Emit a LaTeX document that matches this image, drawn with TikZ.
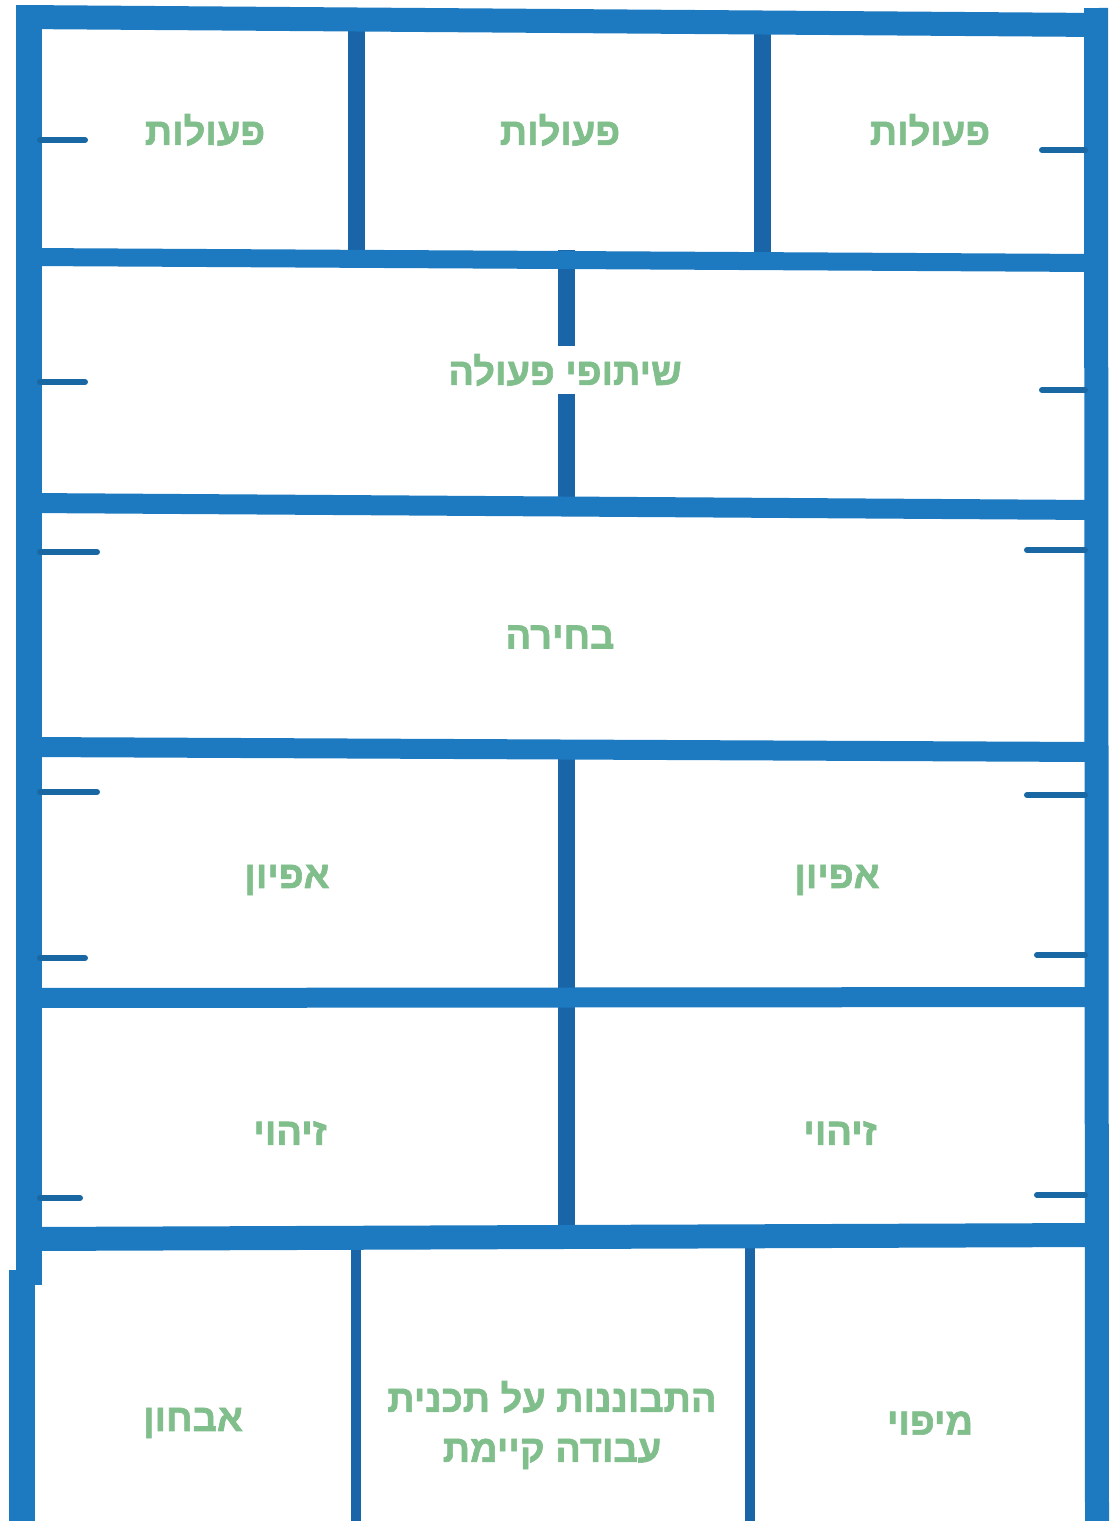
\documentclass[tikz,border=0pt]{standalone}
\usepackage{fontspec}
\TeXXeTstate=1
\newfontfamily\heb[Script=Hebrew,BoldFeatures={FakeBold=1.6}]{Liberation Sans}
\definecolor{pipe}{RGB}{30,122,192}
\definecolor{post}{RGB}{26,100,168}
\definecolor{lbl}{RGB}{128,190,140}
\tikzset{
  rail/.style={draw=pipe,line width=20pt},
  outer/.style={draw=pipe,line width=26pt},
  innerpost/.style={draw=post,line width=17pt},
  thinpost/.style={draw=post,line width=10pt},
  hook/.style={draw=pipe!85!black,line width=6pt,line cap=round},
  lab/.style={text=lbl,font=\heb\bfseries\fontsize{38}{50}\selectfont,align=center,inner sep=4pt}
}
\begin{document}
\begin{tikzpicture}[x=1pt,y=-1pt]
\useasboundingbox[fill=white] (0,0) rectangle (1109,1521);
% inner posts
\draw[innerpost] (356,30) -- (356,255);
\draw[innerpost] (762,32) -- (762,258);
\draw[innerpost] (566,250) -- (566,512);
\draw[innerpost] (566,745) -- (566,998);
\draw[innerpost] (566,995) -- (566,1236);
\draw[thinpost] (356,1236) -- (356,1521);
\draw[thinpost] (750,1236) -- (750,1521);
% rails
\draw[rail,line width=24pt] (20,17) -- (1100,25);
\draw[rail,line width=18pt] (30,257) -- (1095,263);
\draw[rail] (30,503) -- (1095,510);
\draw[rail] (30,747) -- (1095,752);
\draw[rail] (25,998) -- (1095,997);
\draw[rail,line width=24pt] (25,1239) -- (1095,1235);
% outer posts
\draw[outer] (29,5) -- (29,1285);
\draw[outer] (22,1270) -- (22,1521);
\draw[outer,line width=24pt] (1096,8) -- (1097,1521);
% hooks
\foreach \y/\l in {140/85,382/85,552/97,792/97,958/85,1198/80}
  \draw[hook] (40,\y) -- (\l,\y);
\foreach \y/\l in {150/1042,390/1042,550/1027,795/1027,955/1037,1195/1037}
  \draw[hook] (1085,\y) -- (\l,\y);
% labels
\node[lab] (a1) at (205,130) {\beginR פעולות\endR};
\node[lab] (a2) at (560,130) {\beginR פעולות\endR};
\node[lab] (a3) at (930,130) {\beginR פעולות\endR};
\node[lab,fill=white,inner sep=8pt] (b) at (565,370) {\beginR שיתופי פעולה\endR};
\node[lab] (c) at (560,637) {\beginR בחירה\endR};
\node[lab] (d1) at (287,880) {\beginR אפיון\endR};
\node[lab] (d2) at (837,880) {\beginR אפיון\endR};
\node[lab] (e1) at (290,1133) {\beginR זיהוי\endR};
\node[lab] (e2) at (840,1133) {\beginR זיהוי\endR};
\node[lab] (f1) at (193,1423) {\beginR אבחון\endR};
\node[lab] (f2) at (552,1425) {\beginR התבוננות על תכנית\endR\\\beginR עבודה קיימת\endR};
\node[lab] (f3) at (930,1423) {\beginR מיפוי\endR};
\end{tikzpicture}
\end{document}
